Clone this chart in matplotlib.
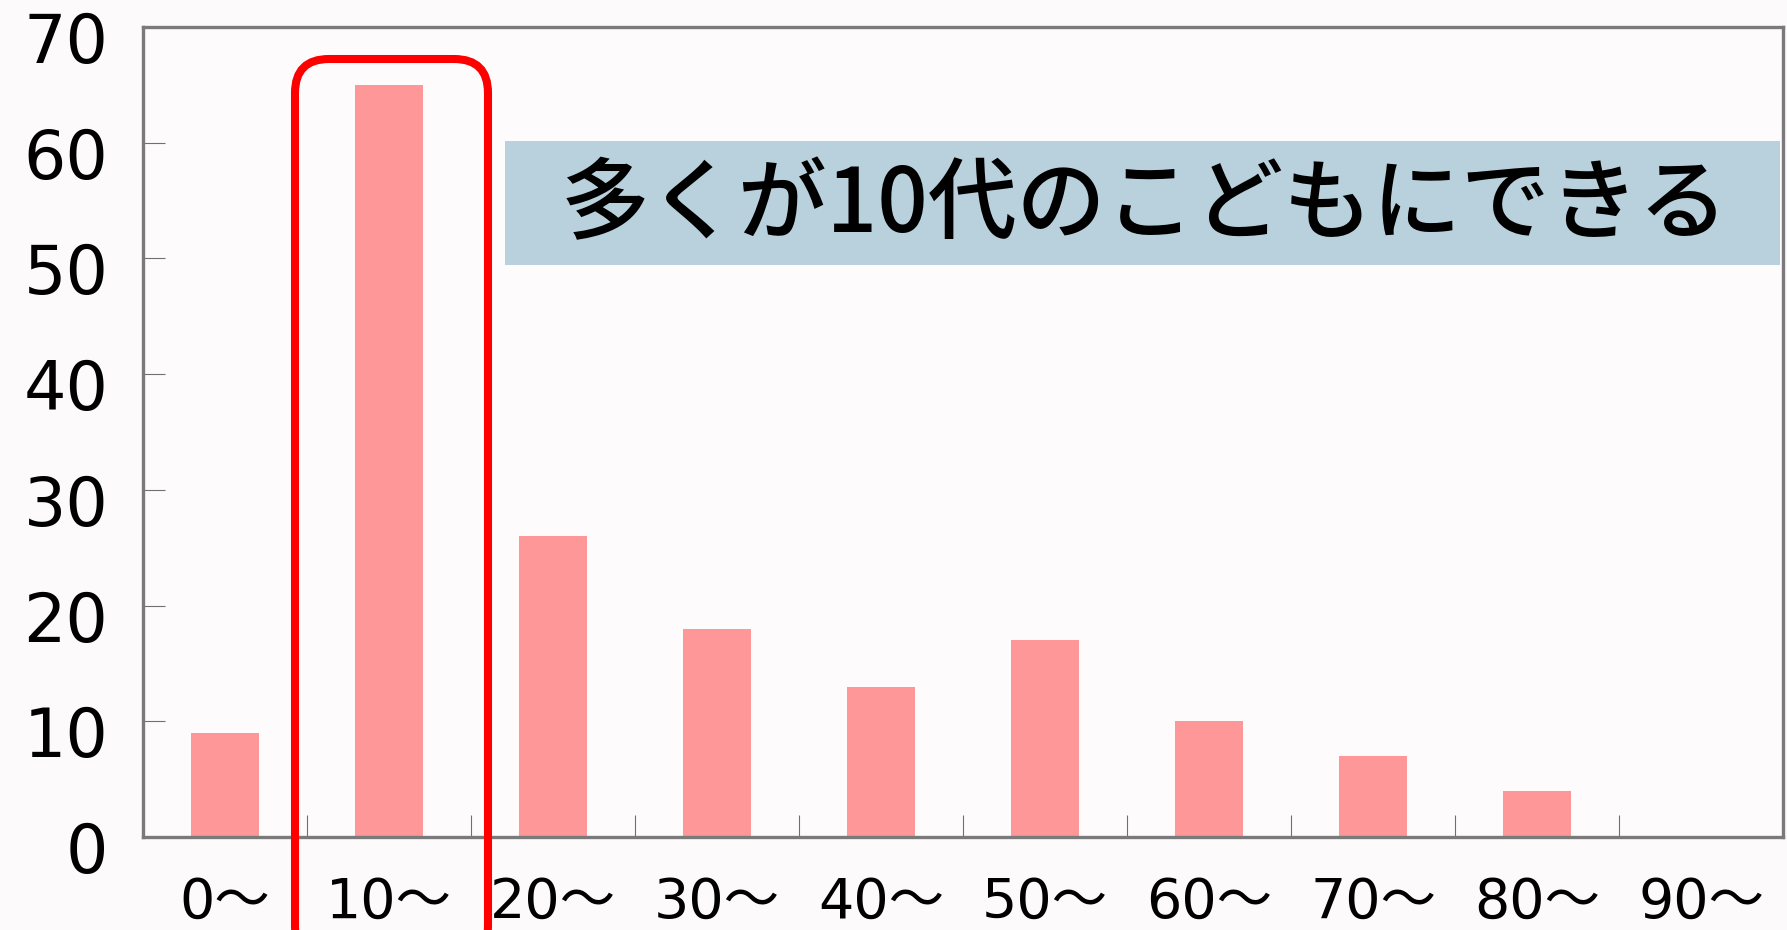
import matplotlib
matplotlib.use('Agg')
import matplotlib.pyplot as plt
from matplotlib.patches import FancyBboxPatch, Rectangle
from matplotlib.transforms import ScaledTranslation, IdentityTransform

plt.rcParams['font.family'] = ['Noto Sans CJK JP', 'DejaVu Sans']

# ---- data ----
categories = ['0～', '10～', '20～', '30～', '40～', '50～', '60～', '70～', '80～', '90～']
counts = [9, 65, 26, 18, 13, 17, 10, 7, 4, 0]
yticks = [0, 10, 20, 30, 40, 50, 60, 70]
title = '多くが10代のこどもにできる'

W, H, DPI = 17.87, 9.30, 100
fig = plt.figure(figsize=(W, H), dpi=DPI)
fig.patch.set_facecolor('#fcfafa')

ax = fig.add_axes([0.0800, 0.1000, 0.9178, 0.8710])
ax.set_facecolor('#fdfbfb')

xpos = list(range(len(categories)))
ax.bar(xpos, counts, width=0.41, color='#fe9898', zorder=2)

ax.set_xlim(-0.5, len(categories) - 0.5)
ax.set_ylim(yticks[0], yticks[-1])

num_family = ['DejaVu Sans', 'Noto Sans CJK JP']
ax.set_yticks(yticks)
ax.set_yticklabels([str(v) for v in yticks], fontsize=48, family=num_family)
ax.set_xticks(xpos)
ax.set_xticklabels(categories, fontsize=40, family=num_family)
ax.set_xticks([i + 0.5 for i in xpos[:-1]], minor=True)

ax.tick_params(axis='x', which='major', length=0, pad=28)
ax.tick_params(axis='x', which='minor', direction='in', length=15.5, width=0.8, color='#707070')
ax.tick_params(axis='y', which='major', direction='in', length=16, width=0.8, color='#707070', pad=25)

# shift y tick labels slightly downward like the reference
off = ScaledTranslation(0, -10 / DPI, fig.dpi_scale_trans)
for lab in ax.get_yticklabels():
    lab.set_transform(lab.get_transform() + off)

for side, sp in ax.spines.items():
    sp.set_color('#7a7a7a')
    sp.set_linewidth(2.4)

# title box
box = Rectangle((0.2826, 0.7151), 0.7135, 0.1333, transform=fig.transFigure,
                facecolor='#b9d1dc', edgecolor='none', zorder=5)
fig.add_artist(box)
fig.text(0.6402, 0.7774, title, fontsize=64, fontweight='medium', ha='center', va='center',
         color='black', zorder=6)

# red rounded highlight box (display pixels)
hl = FancyBboxPatch((295, -30), 193, 901, boxstyle='round,pad=0,rounding_size=34',
                    transform=IdentityTransform(), fill=False, edgecolor='#ff0000',
                    linewidth=5.8, zorder=7, clip_on=False)
fig.add_artist(hl)

fig.savefig('out.png', dpi=DPI, facecolor=fig.get_facecolor())
